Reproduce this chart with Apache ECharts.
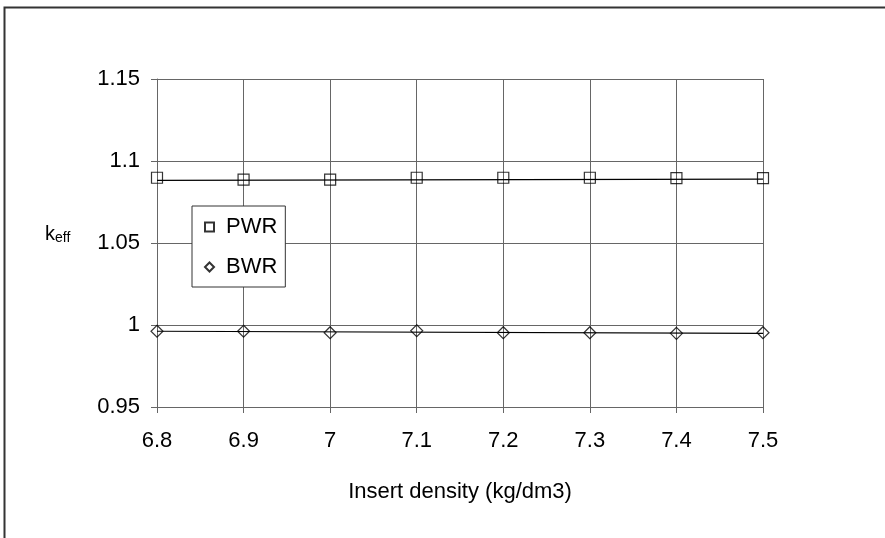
<!DOCTYPE html>
<html>
<head>
<meta charset="utf-8">
<script src="https://cdn.jsdelivr.net/npm/echarts@6/dist/echarts.min.js"></script>
<style>
html,body{margin:0;padding:0;background:#fff;}
#chart{width:885px;height:538px;}
</style>
</head>
<body>
<div id="chart"></div>
<script>
// Data
var categories = ['6.8', '6.9', '7', '7.1', '7.2', '7.3', '7.4', '7.5'];
var pwrValues = [1.0898, 1.0886, 1.0886, 1.0898, 1.0898, 1.0898, 1.0895, 1.0895];
var bwrValues = [0.9962, 0.9962, 0.9953, 0.9965, 0.9953, 0.9953, 0.9949, 0.9953];
// trend lines (endpoints)
var pwrTrend = [1.0882, null, null, null, null, null, null, 1.0890];
var bwrTrend = [0.9962, null, null, null, null, null, null, 0.9949];
var yTickLabels = ['0.95', '1', '1.05', '1.1', '1.15'];
var yMin = 0.95, yMax = 1.15, yStep = 0.05;

var FONT = '"Liberation Sans", Arial, sans-serif';
var FS = 22;
var chart = echarts.init(document.getElementById('chart'), null, {renderer: 'canvas'});
var gridColor = '#666';

var option = {
  backgroundColor: '#fff',
  animation: false,
  textStyle: {fontFamily: FONT, color: '#000'},
  grid: {left: 157, right: 122, top: 79, bottom: 131, show: false},
  xAxis: {
    type: 'category',
    data: categories,
    boundaryGap: false,
    axisLine: {show: true, lineStyle: {color: gridColor, width: 1}},
    axisTick: {show: true, alignWithLabel: true, inside: false, length: 6, lineStyle: {color: gridColor}},
    splitLine: {show: true, lineStyle: {color: gridColor, width: 1}},
    axisLabel: {fontSize: FS, color: '#000', margin: 23, fontFamily: FONT},
    name: 'Insert density (kg/dm3)',
    nameLocation: 'middle',
    nameGap: 74,
    nameTextStyle: {fontSize: FS, color: '#000', fontFamily: FONT}
  },
  yAxis: {
    type: 'value',
    min: yMin, max: yMax, interval: yStep,
    axisLine: {show: true, lineStyle: {color: gridColor, width: 1}},
    axisTick: {show: true, length: 6, lineStyle: {color: gridColor}},
    splitLine: {show: true, lineStyle: {color: gridColor, width: 1}},
    axisLabel: {
      fontSize: FS, color: '#000', margin: 17, fontFamily: FONT,
      formatter: function (v) {
        var idx = Math.round((v - yMin) / yStep);
        return yTickLabels[idx] !== undefined ? yTickLabels[idx] : '';
      }
    }
  },
  legend: {
    left: 192, top: 206,
    orient: 'vertical',
    data: ['PWR', 'BWR'],
    backgroundColor: '#fff',
    borderColor: '#333',
    borderWidth: 1,
    borderRadius: 0,
    padding: [10, 8, 9, 12],
    itemGap: 18,
    itemWidth: 9,
    itemHeight: 9,
    textStyle: {fontSize: FS, color: '#000', fontFamily: FONT, padding: [0, 0, 0, 7]},
    selectedMode: false
  },
  series: [
    {
      name: 'PWR trend', type: 'line', data: pwrTrend, connectNulls: true,
      showSymbol: false, symbol: 'none', silent: true,
      lineStyle: {color: '#000', width: 1.2}, z: 3
    },
    {
      name: 'BWR trend', type: 'line', data: bwrTrend, connectNulls: true,
      showSymbol: false, symbol: 'none', silent: true,
      lineStyle: {color: '#000', width: 1.2}, z: 3
    },
    {
      name: 'PWR', type: 'scatter', data: pwrValues,
      symbol: 'rect', symbolSize: 11,
      itemStyle: {color: 'rgba(255,255,255,0)', borderColor: '#000', borderWidth: 1.2}, z: 4
    },
    {
      name: 'BWR', type: 'scatter', data: bwrValues,
      symbol: 'diamond', symbolSize: 12,
      itemStyle: {color: 'rgba(255,255,255,0)', borderColor: '#000', borderWidth: 1.2}, z: 4
    }
  ],
  graphic: [
    {
      type: 'rect', silent: true, z: 0,
      shape: {x: 4.5, y: 7.5, width: 1200, height: 1200},
      style: {fill: 'none', stroke: '#333', lineWidth: 2}
    },
    {
      type: 'text', left: 45, top: 224, silent: true,
      style: {
        text: '{k|k}{s|eff}',
        rich: {
          k: {fontSize: 20, fontFamily: FONT, fill: '#000'},
          s: {fontSize: 14, fontFamily: FONT, fill: '#000', padding: [8, 0, 0, 0]}
        }
      }
    }
  ]
};
chart.setOption(option);
</script>
</body>
</html>
